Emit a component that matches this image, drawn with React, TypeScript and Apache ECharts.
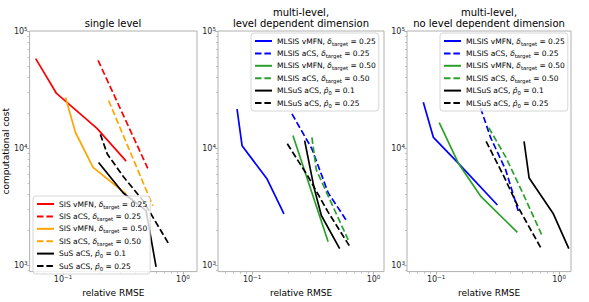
import React, { useEffect, useRef } from 'react';
import * as echarts from 'echarts';

// ---------- data (relative RMSE, computational cost) ----------
// Panel 1: single level
const sisVmfn025X = [0.0592, 0.0883, 0.192, 0.336];
const sisVmfn025Y = [58100, 29300, 14750, 7740];
const sisAcs025X = [0.196, 0.509];
const sisAcs025Y = [56200, 6720];
const sisVmfn050X = [0.105, 0.127, 0.178, 0.336];
const sisVmfn050Y = [27000, 13600, 6850, 4060];
const sisAcs050X = [0.24, 0.561];
const sisAcs050Y = [25500, 3220];
const susAcs01X = [0.198, 0.318, 0.493, 0.597];
const susAcs01Y = [7540, 4140, 2930, 968];
const susAcs025X = [0.205, 0.234, 0.318, 0.466, 0.755];
const susAcs025Y = [13100, 8910, 5730, 3550, 1545];

// Panel 2: multi-level, level dependent dimension
const ldBlueSolidX = [0.0752, 0.0827, 0.133, 0.183];
const ldBlueSolidY = [21500, 10500, 5440, 2750];
const ldBlueDashX = [0.213, 0.311, 0.423, 0.61];
const ldBlueDashY = [19600, 9860, 4160, 2340];
const ldGreenSolidX = [0.217, 0.423];
const ldGreenSolidY = [12800, 1590];
const ldGreenDashX = [0.311, 0.338, 0.423, 0.618];
const ldGreenDashY = [12350, 6520, 3910, 1650];
const ldBlackSolidX = [0.271, 0.324, 0.372, 0.526];
const ldBlackSolidY = [11600, 4580, 2660, 1386];
const ldBlackDashX = [0.195, 0.289, 0.423, 0.649];
const ldBlackDashY = [10900, 5730, 2840, 1405];

// Panel 3: multi-level, no level dependent dimension
const nldBlueSolidX = [0.0787, 0.0951, 0.152, 0.315];
const nldBlueSolidY = [24600, 12350, 7400, 3270];
const nldBlueDashX = [0.23, 0.277, 0.368, 0.473];
const nldBlueDashY = [22000, 12350, 6520, 2750];
const nldGreenSolidX = [0.106, 0.152, 0.232, 0.458];
const nldGreenSolidY = [16500, 7400, 3850, 1910];
const nldGreenDashX = [0.268, 0.368, 0.519, 0.734];
const nldGreenDashY = [14960, 8410, 3910, 1755];
const nldBlackSolidX = [0.519, 0.571, 0.898, 1.2];
const nldBlackSolidY = [11430, 5550, 2750, 1386];
const nldBlackDashX = [0.255, 0.356, 0.473, 0.711];
const nldBlackDashY = [11430, 5730, 3030, 1405];

// axis ticks
const xMajorTicks = [0.01, 0.1, 1, 10];
const yMajorTicks = [100, 1000, 10000, 100000];
const xMinorTicks = [0.02, 0.03, 0.04, 0.05, 0.06, 0.07, 0.08, 0.09, 0.2, 0.3, 0.4, 0.5, 0.6, 0.7, 0.8, 0.9, 2, 3, 4, 5, 6, 7, 8, 9];
const yMinorTicks = [200, 300, 400, 500, 600, 700, 800, 900, 2000, 3000, 4000, 5000, 6000, 7000, 8000, 9000, 20000, 30000, 40000, 50000, 60000, 70000, 80000, 90000];
const xRanges = [[0.0527, 1.31], [0.0524, 1.22], [0.058, 1.25]];
const yRange = [883, 100000];

const titles = ['single level', 'multi-level,\nlevel dependent dimension', 'multi-level,\nno level dependent dimension'];

// legend names
const N1 = ['SIS vMFN, d=0.25', 'SIS aCS, d=0.25', 'SIS vMFN, d=0.50', 'SIS aCS, d=0.50', 'SuS aCS, p=0.1', 'SuS aCS, p=0.25'];
const N2 = ['MLSIS vMFN, d=0.25', 'MLSIS aCS, d=0.25', 'MLSIS vMFN, d=0.50', 'MLSIS aCS, d=0.50', 'MLSuS aCS, p=0.1', 'MLSuS aCS, p=0.25'];

const richLabel = (name: string) => {
  const [head, rest] = name.split(', ');
  const [sym, val] = rest.split('=');
  const symText = sym === 'd' ? '{i|δ}{sub|target}' : '{i|p\u0302}{sub|0}';
  return `${head}, ${symText} = ${val}`;
};

const FONT = "'DejaVu Sans', sans-serif";
const GRAY = '#b0b0b0';
const RED = '#ff0000';
const ORANGE = '#ffa500';
const BLUE = '#0000ff';
const GREEN = '#2ca02c';
const BLACK = '#000000';

const zip = (xs: number[], ys: number[]) => xs.map((x, i) => [x, ys[i]]);

function line(name: string, xs: number[], ys: number[], color: string, dashed: boolean, panel: number) {
  return {
    type: 'line',
    name,
    xAxisIndex: panel * 2,
    yAxisIndex: panel * 2,
    data: zip(xs, ys),
    symbol: 'none',
    showSymbol: false,
    silent: true,
    lineStyle: { color, width: 1.7, type: dashed ? [6.5, 2.9] : 'solid' },
    itemStyle: { color },
    emphasis: { disabled: true },
  };
}

const supLabel = (v: number) => {
  const e = Math.round(Math.log10(v));
  return `{b|10}{s|${e < 0 ? '\u2212' + -e : e}}`;
};

const tickRich = {
  b: { fontSize: 8, fontFamily: FONT, color: '#262626' },
  s: { fontSize: 5.6, fontFamily: FONT, color: '#262626', padding: [0, 0, 5, 0] },
};

const gridPos = [
  { left: 29, width: 168 },
  { left: 218, width: 166 },
  { left: 407, width: 164 },
];
const titleX = [113, 301, 489];

export default function App() {
  const ref = useRef<HTMLDivElement>(null);
  useEffect(() => {
    document.body.style.margin = '0';
    if (!ref.current) return;
    const chart = echarts.init(ref.current, undefined, { renderer: 'svg' });

    const xAxes: any[] = [];
    const yAxes: any[] = [];
    for (let p = 0; p < 3; p++) {
      const common = { type: 'log', logBase: 10, gridIndex: p, splitLine: { show: false }, axisLine: { show: false } };
      xAxes.push({
        ...common,
        position: 'bottom',
        min: xRanges[p][0],
        max: xRanges[p][1],
        name: 'relative RMSE',
        nameLocation: 'middle',
        nameGap: 16.5,
        nameTextStyle: { fontSize: 9, fontFamily: FONT, color: '#000', verticalAlign: 'middle' },
        axisTick: { show: true, length: 3, lineStyle: { color: GRAY, width: 1 }, customValues: xMajorTicks },
        axisLabel: { show: true, margin: 2, customValues: xMajorTicks, formatter: supLabel, rich: tickRich },
      });
      xAxes.push({
        ...common,
        position: 'bottom',
        min: xRanges[p][0],
        max: xRanges[p][1],
        axisTick: { show: true, length: 2, lineStyle: { color: GRAY, width: 0.8 }, customValues: xMinorTicks },
        axisLabel: { show: false },
      });
      yAxes.push({
        ...common,
        position: 'left',
        min: yRange[0],
        max: yRange[1],
        name: p === 0 ? 'computational cost' : '',
        nameLocation: 'middle',
        nameGap: 19,
        nameTextStyle: { fontSize: 9, fontFamily: FONT, color: '#000', verticalAlign: 'middle' },
        axisTick: { show: true, length: 3, lineStyle: { color: GRAY, width: 1 }, customValues: yMajorTicks },
        axisLabel: { show: true, margin: 2, customValues: yMajorTicks, formatter: supLabel, rich: tickRich },
      });
      yAxes.push({
        ...common,
        position: 'left',
        min: yRange[0],
        max: yRange[1],
        axisTick: { show: true, length: 2, lineStyle: { color: GRAY, width: 0.8 }, customValues: yMinorTicks },
        axisLabel: { show: false },
      });
    }

    const legendRich = {
      i: { fontStyle: 'italic', fontSize: 7.5, fontFamily: FONT, color: '#000', lineHeight: 11 },
      sub: { fontSize: 5.3, fontFamily: FONT, color: '#000', lineHeight: 6, padding: [5, 0, 0, 0] },
    };
    const legendBase = {
      orient: 'vertical',
      align: 'left',
      itemWidth: 17,
      itemHeight: 8,
      itemGap: 1.4,
      padding: [2.5, 3, 2.5, 3],
      backgroundColor: 'rgba(255,255,255,0.8)',
      borderColor: '#cccccc',
      borderWidth: 0.8,
      borderRadius: 3,
      selectedMode: false,
      itemStyle: { opacity: 0, borderWidth: 0 },
      textStyle: { fontSize: 7.5, fontFamily: FONT, color: '#000', lineHeight: 11, rich: legendRich },
      formatter: (n: string) => richLabel(n),
    };

    const series = [
      line(N1[0], sisVmfn025X, sisVmfn025Y, RED, false, 0),
      line(N1[1], sisAcs025X, sisAcs025Y, RED, true, 0),
      line(N1[2], sisVmfn050X, sisVmfn050Y, ORANGE, false, 0),
      line(N1[3], sisAcs050X, sisAcs050Y, ORANGE, true, 0),
      line(N1[4], susAcs01X, susAcs01Y, BLACK, false, 0),
      line(N1[5], susAcs025X, susAcs025Y, BLACK, true, 0),

      line(N2[0], ldBlueSolidX, ldBlueSolidY, BLUE, false, 1),
      line(N2[1], ldBlueDashX, ldBlueDashY, BLUE, true, 1),
      line(N2[2], ldGreenSolidX, ldGreenSolidY, GREEN, false, 1),
      line(N2[3], ldGreenDashX, ldGreenDashY, GREEN, true, 1),
      line(N2[4], ldBlackSolidX, ldBlackSolidY, BLACK, false, 1),
      line(N2[5], ldBlackDashX, ldBlackDashY, BLACK, true, 1),

      line(N2[0], nldBlueSolidX, nldBlueSolidY, BLUE, false, 2),
      line(N2[1], nldBlueDashX, nldBlueDashY, BLUE, true, 2),
      line(N2[2], nldGreenSolidX, nldGreenSolidY, GREEN, false, 2),
      line(N2[3], nldGreenDashX, nldGreenDashY, GREEN, true, 2),
      line(N2[4], nldBlackSolidX, nldBlackSolidY, BLACK, false, 2),
      line(N2[5], nldBlackDashX, nldBlackDashY, BLACK, true, 2),
    ];

    chart.setOption({
      animation: false,
      grid: gridPos.map((g) => ({
        left: g.left,
        width: g.width,
        top: 31,
        height: 246.5,
        show: true,
        borderColor: GRAY,
        borderWidth: 1,
        backgroundColor: 'transparent',
        containLabel: false,
      })),
      xAxis: xAxes,
      yAxis: yAxes,
      legend: [
        { ...legendBase, data: N1, left: 33, top: 196 },
        { ...legendBase, data: N2, left: 251, top: 33 },
        { ...legendBase, data: N2, left: 440, top: 33 },
      ],
      graphic: titles.map((t, i) => ({
        type: 'text',
        x: titleX[i],
        y: i === 0 ? 23.5 : 18,
        silent: true,
        style: {
          text: t,
          fontSize: 10,
          fontFamily: FONT,
          fill: '#000',
          lineHeight: 11,
          align: 'center',
          verticalAlign: 'middle',
        },
      })),
      series,
    });
    return () => chart.dispose();
  }, []);
  return <div ref={ref} style={{ width: 589, height: 302 }} />;
}
